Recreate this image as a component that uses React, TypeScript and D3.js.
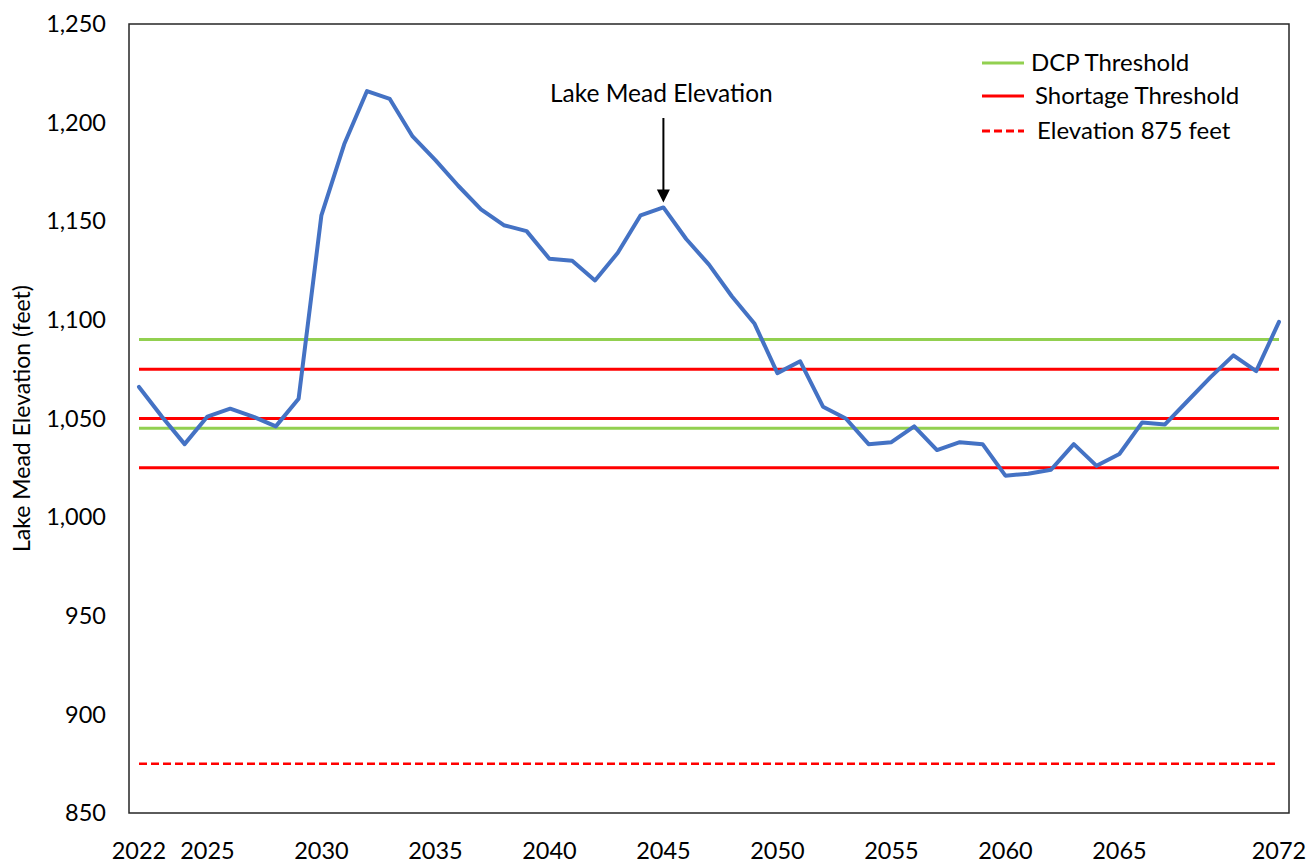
import React from "react";
import * as d3 from "d3";

const years: number[] = [
  2022, 2023, 2024, 2025, 2026, 2027, 2028, 2029, 2030, 2031,
  2032, 2033, 2034, 2035, 2036, 2037, 2038, 2039, 2040, 2041,
  2042, 2043, 2044, 2045, 2046, 2047, 2048, 2049, 2050, 2051,
  2052, 2053, 2054, 2055, 2056, 2057, 2058, 2059, 2060, 2061,
  2062, 2063, 2064, 2065, 2066, 2067, 2068, 2069, 2070, 2071, 2072,
];
const elevation: number[] = [
  1066, 1051, 1037, 1051, 1055, 1051, 1046, 1060, 1153, 1189,
  1216, 1212, 1193, 1181, 1168, 1156, 1148, 1145, 1131, 1130,
  1120, 1134, 1153, 1157, 1141, 1128, 1112, 1098, 1073, 1079,
  1056, 1050, 1037, 1038, 1046, 1034, 1038, 1037, 1021, 1022,
  1024, 1037, 1026, 1032, 1048, 1047, 1059, 1071, 1082, 1074, 1099,
];
const dcpThresholds: number[] = [1090, 1045];
const shortageThresholds: number[] = [1075, 1050, 1025];
const elevation875: number[] = [875];
const xTickValues: number[] = [2022, 2025, 2030, 2035, 2040, 2045, 2050, 2055, 2060, 2065, 2072];
const yTickValues: number[] = [850, 900, 950, 1000, 1050, 1100, 1150, 1200, 1250];
const legendLabels: string[] = ["DCP Threshold", "Shortage Threshold", "Elevation 875 feet"];
const annotationLabel = "Lake Mead Elevation";
const annotationYear = 2045;
const yAxisTitle = "Lake Mead Elevation (feet)";

const FONT = "Lato, 'Open Sans', sans-serif";
const BLUE = "#4472C4";
const GREEN = "#92D050";
const RED = "#FF0000";

export default function App() {
  const W = 1310;
  const H = 865;
  const x = d3.scaleLinear().domain([2022, 2072]).range([139, 1279]);
  const y = d3.scaleLinear().domain([850, 1250]).range([813, 24]);
  const frameL = x(2022) - 10;
  const frameR = x(2072) + 10;
  const frameT = y(1250);
  const frameB = y(850);

  const line = d3
    .line<number>()
    .x((_, i) => x(years[i]))
    .y((d) => y(d));

  const fmt = d3.format(",");
  const annIdx = years.indexOf(annotationYear);
  const annX = x(annotationYear);
  const annTipY = y(elevation[annIdx]) - 5;

  const legendX = 982;
  const legendRows = [
    { label: legendLabels[0], color: GREEN, dash: undefined as string | undefined, y: 63, tx: 1031 },
    { label: legendLabels[1], color: RED, dash: undefined, y: 96, tx: 1035 },
    { label: legendLabels[2], color: RED, dash: "8,4", y: 131, tx: 1037 },
  ];

  return (
    <svg
      width={W}
      height={H}
      style={{ position: "absolute", left: 0, top: 0, background: "#fff" }}
      fontFamily={FONT}
    >
      <rect x={0} y={0} width={W} height={H} fill="#fff" />
      {/* plot frame */}
      <rect
        x={frameL}
        y={frameT}
        width={frameR - frameL}
        height={frameB - frameT}
        fill="none"
        stroke="#262626"
        strokeWidth={1.5}
      />
      {/* y ticks */}
      {yTickValues.map((v) => (
        <text
          key={"y" + v}
          x={106}
          y={y(v)}
          dy="0.35em"
          textAnchor="end"
          fontSize={23.5}
          fill="#000"
        >
          {fmt(v)}
        </text>
      ))}
      {/* x ticks */}
      {xTickValues.map((v) => (
        <text key={"x" + v} x={x(v)} y={859} textAnchor="middle" fontSize={23.5} fill="#000">
          {v}
        </text>
      ))}
      {/* y axis title */}
      <text
        transform={`translate(30,${(frameT + frameB) / 2}) rotate(-90)`}
        textAnchor="middle"
        fontSize={23}
        fill="#000"
      >
        {yAxisTitle}
      </text>
      {/* threshold lines */}
      {dcpThresholds.map((v) => (
        <line key={"g" + v} x1={x(2022)} x2={x(2072)} y1={y(v)} y2={y(v)} stroke={GREEN} strokeWidth={3} />
      ))}
      {shortageThresholds.map((v) => (
        <line key={"r" + v} x1={x(2022)} x2={x(2072)} y1={y(v)} y2={y(v)} stroke={RED} strokeWidth={3} />
      ))}
      {elevation875.map((v) => (
        <line
          key={"d" + v}
          x1={x(2022)}
          x2={x(2072)}
          y1={y(v)}
          y2={y(v)}
          stroke={RED}
          strokeWidth={2.5}
          strokeDasharray="8,4"
        />
      ))}
      {/* elevation series */}
      <path
        d={line(elevation) || ""}
        fill="none"
        stroke={BLUE}
        strokeWidth={4}
        strokeLinejoin="round"
        strokeLinecap="round"
      />
      {/* annotation */}
      <text x={annX - 2} y={102} textAnchor="middle" fontSize={24.5} fill="#000">
        {annotationLabel}
      </text>
      <line x1={annX} x2={annX} y1={118} y2={annTipY - 12} stroke="#000" strokeWidth={2} />
      <path
        d={`M${annX - 6.5},${annTipY - 13} L${annX + 6.5},${annTipY - 13} L${annX},${annTipY} Z`}
        fill="#000"
      />
      {/* legend */}
      {legendRows.map((r) => (
        <g key={r.label}>
          <line
            x1={legendX}
            x2={legendX + 42}
            y1={r.y}
            y2={r.y}
            stroke={r.color}
            strokeWidth={3}
            strokeDasharray={r.dash}
          />
          <text x={r.tx} y={r.y} dy="0.35em" fontSize={24} fill="#000">
            {r.label}
          </text>
        </g>
      ))}
    </svg>
  );
}
